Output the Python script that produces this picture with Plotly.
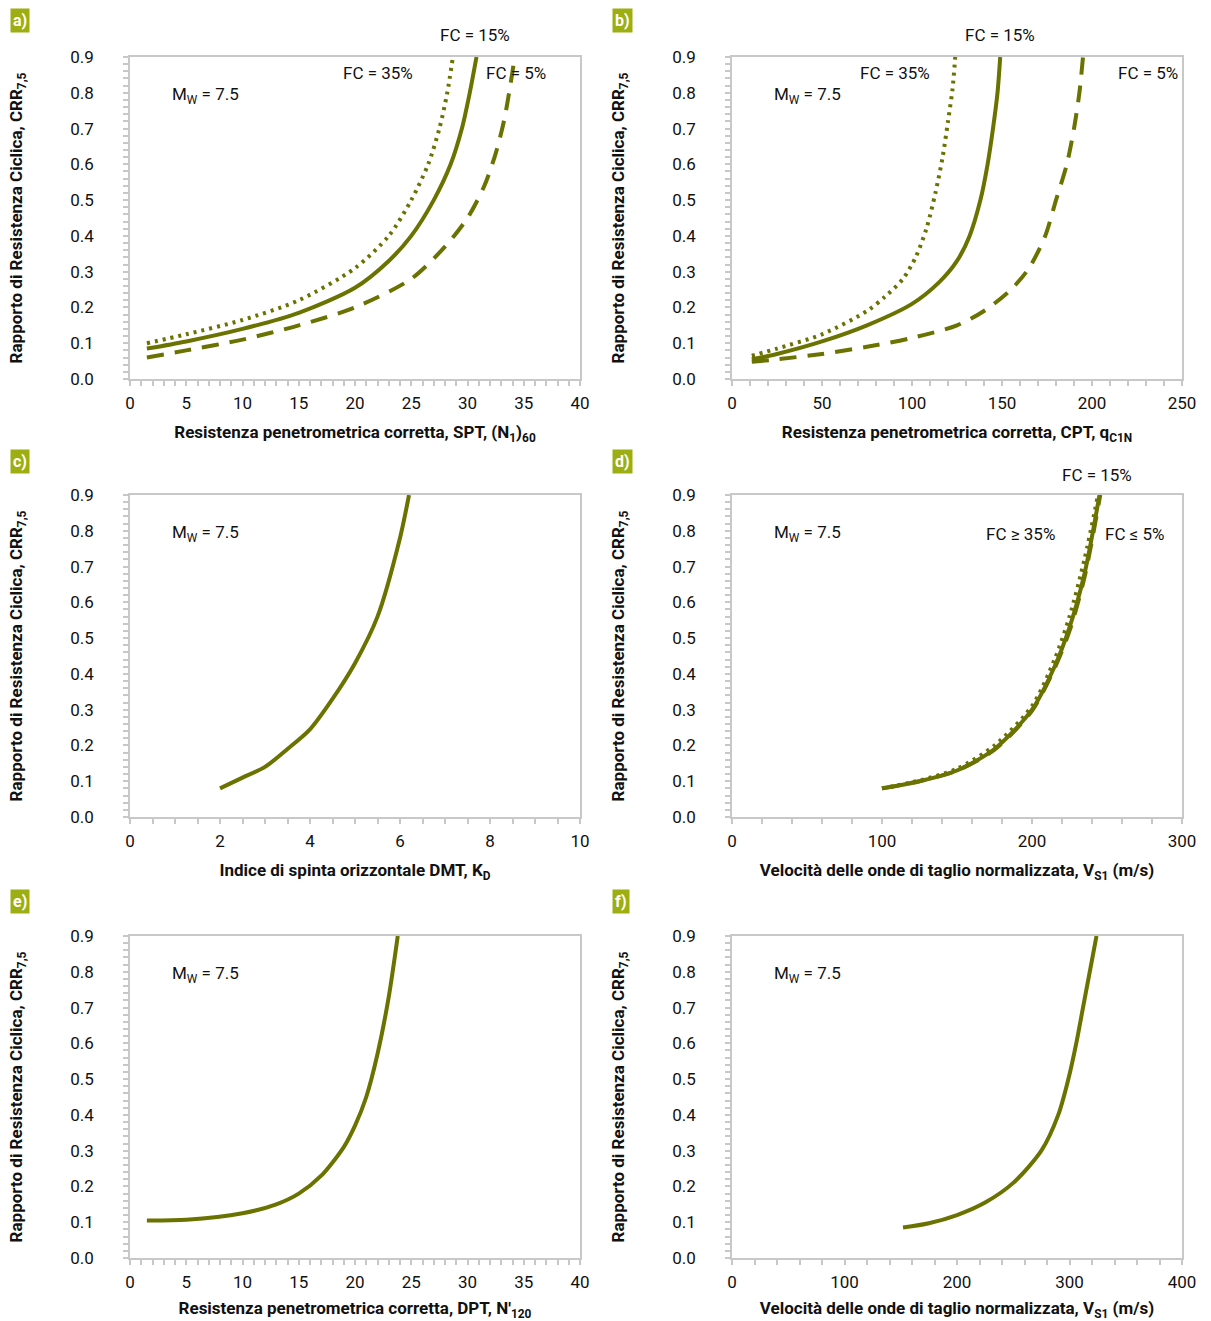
import plotly.graph_objects as go

# ---------------- DATA ----------------
# Panel a: SPT (N1)60 vs CRR7.5
spt_x_fc15 = [1.5, 5, 10, 15, 20, 23, 25, 27, 28.5, 29.5, 30.2, 30.8]
spt_y_fc15 = [0.085, 0.105, 0.14, 0.185, 0.255, 0.33, 0.40, 0.50, 0.60, 0.70, 0.80, 0.90]
spt_x_fc35 = [1.5, 5, 10, 15, 20, 23, 25, 26.5, 27.5, 28.2, 28.7]
spt_y_fc35 = [0.10, 0.125, 0.165, 0.22, 0.31, 0.40, 0.50, 0.60, 0.70, 0.80, 0.90]
spt_x_fc5 = [1.5, 5, 10, 15, 20, 25, 28, 30, 31.5, 32.5, 33.3, 34.2]
spt_y_fc5 = [0.06, 0.08, 0.11, 0.15, 0.20, 0.28, 0.37, 0.45, 0.54, 0.63, 0.73, 0.90]

# Panel b: CPT qc1N vs CRR7.5
cpt_x_fc15 = [11, 25, 50, 75, 100, 115, 125, 132, 138, 142, 145, 147.5, 149]
cpt_y_fc15 = [0.055, 0.07, 0.105, 0.15, 0.21, 0.27, 0.33, 0.40, 0.50, 0.60, 0.70, 0.80, 0.90]
cpt_x_fc35 = [11, 25, 50, 75, 85, 95, 102, 108, 113, 117, 120, 122.5, 124]
cpt_y_fc35 = [0.065, 0.085, 0.125, 0.19, 0.23, 0.28, 0.34, 0.42, 0.52, 0.62, 0.72, 0.81, 0.90]
cpt_x_fc5 = [11, 25, 50, 75, 100, 125, 140, 155, 165, 174, 180, 186, 190, 193, 195]
cpt_y_fc5 = [0.048, 0.055, 0.07, 0.09, 0.115, 0.15, 0.19, 0.25, 0.31, 0.40, 0.50, 0.60, 0.70, 0.80, 0.90]

# Panel c: DMT KD vs CRR7.5
dmt_x = [2.0, 2.5, 3.0, 3.5, 4.0, 4.5, 5.0, 5.5, 6.0, 6.2]
dmt_y = [0.08, 0.11, 0.14, 0.19, 0.245, 0.33, 0.43, 0.56, 0.78, 0.90]

# Panel d: Vs1 vs CRR7.5 (FC-dependent)
vs_x_fc15 = [100, 125, 150, 175, 200, 215, 225, 235, 245]
vs_y_fc15 = [0.08, 0.10, 0.13, 0.19, 0.30, 0.42, 0.53, 0.68, 0.90]
vs_x_fc35 = [100, 125, 150, 175, 200, 215, 225, 235, 244]
vs_y_fc35 = [0.08, 0.102, 0.135, 0.20, 0.31, 0.44, 0.56, 0.72, 0.90]
vs_x_fc5 = [100, 125, 150, 175, 200, 215, 225, 235, 245.5]
vs_y_fc5 = [0.08, 0.10, 0.13, 0.188, 0.297, 0.415, 0.52, 0.67, 0.90]

# Panel e: DPT N'120 vs CRR7.5
dpt_x = [1.5, 5, 10, 13, 15, 17, 19, 20, 21, 22, 23, 23.8]
dpt_y = [0.105, 0.107, 0.125, 0.15, 0.18, 0.23, 0.31, 0.37, 0.45, 0.57, 0.73, 0.90]

# Panel f: Vs1 vs CRR7.5
vsf_x = [152, 175, 200, 225, 250, 275, 290, 299, 306, 312, 318, 324]
vsf_y = [0.085, 0.097, 0.12, 0.155, 0.21, 0.30, 0.40, 0.50, 0.60, 0.70, 0.80, 0.90]

y_ticks = [0.0, 0.1, 0.2, 0.3, 0.4, 0.5, 0.6, 0.7, 0.8, 0.9]
panel_letters = ["a)", "b)", "c)", "d)", "e)", "f)"]
x_titles = [
    "<b>Resistenza penetrometrica corretta, SPT, (N<sub>1</sub>)<sub>60</sub></b>",
    "<b>Resistenza penetrometrica corretta, CPT, q<sub>C1N</sub></b>",
    "<b>Indice di spinta orizzontale DMT, K<sub>D</sub></b>",
    "<b>Velocità delle onde di taglio normalizzata, V<sub>S1</sub> (m/s)</b>",
    "<b>Resistenza penetrometrica corretta, DPT, N'<sub>120</sub></b>",
    "<b>Velocità delle onde di taglio normalizzata, V<sub>S1</sub> (m/s)</b>",
]
y_title = "<b>Rapporto di Resistenza Ciclica, CRR<sub>7,5</sub></b>"
x_ranges = [[0, 40], [0, 250], [0, 10], [0, 300], [0, 40], [0, 400]]
x_dticks = [5, 50, 2, 100, 5, 100]
x_minor = [1, 10, 0.5, 20, 1, 20]

# ---------------- STYLE ----------------
PAGE_W, PAGE_H = 1211, 1321
W, H = PAGE_W, PAGE_H
LINE = "#6a7200"
LABEL_BG = "#9dae12"
AXIS = "#c8c8c8"
FONT = "Roboto, Lato, sans-serif"


def px_x(X):
    return X / W


def px_y(Y):
    return 1 - Y / H


# plot areas in page pixels (left, right, top, bottom)
areas = [
    (130, 580, 57, 379), (732, 1182, 57, 379),
    (130, 580, 495, 817), (732, 1182, 495, 817),
    (130, 580, 936, 1258), (732, 1182, 936, 1258),
]
label_pos = [(10, 8), (612, 8), (10, 449), (612, 449), (10, 889), (612, 889)]

fig = go.Figure()


def add(ix, x, y, dash, name):
    n = "" if ix == 0 else str(ix + 1)
    fig.add_trace(go.Scatter(
        x=x, y=y, mode="lines", name=name, showlegend=False,
        line=dict(color=LINE, width=4, dash=dash, shape="spline", smoothing=0.8),
        xaxis="x" + n, yaxis="y" + n, hoverinfo="x+y",
    ))


DOT = "3px,5px"
DASH = "17px,11px"
add(0, spt_x_fc35, spt_y_fc35, DOT, "FC = 35%")
add(0, spt_x_fc15, spt_y_fc15, "solid", "FC = 15%")
add(0, spt_x_fc5, spt_y_fc5, DASH, "FC = 5%")
add(1, cpt_x_fc35, cpt_y_fc35, DOT, "FC = 35%")
add(1, cpt_x_fc15, cpt_y_fc15, "solid", "FC = 15%")
add(1, cpt_x_fc5, cpt_y_fc5, DASH, "FC = 5%")
add(2, dmt_x, dmt_y, "solid", "DMT")
add(3, vs_x_fc5, vs_y_fc5, DASH, "FC ≤ 5%")
add(3, vs_x_fc35, vs_y_fc35, DOT, "FC ≥ 35%")
add(3, vs_x_fc15, vs_y_fc15, "solid", "FC = 15%")
add(4, dpt_x, dpt_y, "solid", "DPT")
add(5, vsf_x, vsf_y, "solid", "Vs1")

layout = dict(
    width=W, height=H, margin=dict(l=0, r=0, t=0, b=0, autoexpand=False),
    paper_bgcolor="white", plot_bgcolor="white",
    font=dict(family=FONT, size=16, color="#111111"),
    annotations=[],
)

for i, (l, r, t, b) in enumerate(areas):
    n = "" if i == 0 else str(i + 1)
    layout["xaxis" + n] = dict(
        domain=[px_x(l), px_x(r)], anchor="y" + n, range=x_ranges[i],
        dtick=x_dticks[i], tick0=0, showgrid=False, zeroline=False, automargin=False,
        showline=True, linecolor=AXIS, linewidth=1.5, mirror=True,
        ticks="outside", ticklen=5, tickcolor=AXIS, tickwidth=1.5,
        minor=dict(ticks="outside", ticklen=5, tickcolor=AXIS, dtick=x_minor[i], tick0=0, tickwidth=1.5),
        tickfont=dict(size=17), ticklabelstandoff=3,
        title=dict(text=x_titles[i], font=dict(size=17), standoff=14),
        fixedrange=True,
    )
    layout["yaxis" + n] = dict(
        domain=[px_y(b), px_y(t)], anchor="x" + n, range=[0, 0.9],
        tickvals=y_ticks, ticktext=[f"{v:.1f}" for v in y_ticks],
        showgrid=False, zeroline=False, automargin=False,
        showline=True, linecolor=AXIS, linewidth=1.5, mirror=True,
        ticks="outside", ticklen=5, tickcolor=AXIS, tickwidth=1.5,
        minor=dict(ticks="outside", ticklen=5, tickcolor=AXIS, dtick=0.02, tick0=0, tickwidth=1.5),
        tickfont=dict(size=17), ticklabelstandoff=26,
        title=dict(text=y_title, font=dict(size=17), standoff=43),
        fixedrange=True,
    )
    # Mw label
    layout["annotations"].append(dict(
        text="M<sub>W</sub> = 7.5", xref=f"x{n} domain", yref=f"y{n} domain",
        x=0.088, y=0.88, xanchor="left", yanchor="middle", showarrow=False,
        font=dict(size=17)))
    # panel letter
    lx, ly = label_pos[i]
    layout["annotations"].append(dict(
        text="<b>" + panel_letters[i] + "</b>", xref="paper", yref="paper",
        x=px_x(lx), y=px_y(ly), xanchor="left", yanchor="top", showarrow=False,
        bgcolor=LABEL_BG, font=dict(size=16, color="white"), borderpad=2))

# FC labels (x in data units, y as fraction of the plot height)
fc_labels = [
    ("", "FC = 35%", 22.0, 0.950), ("", "FC = 15%", 30.7, 1.068), ("", "FC = 5%", 34.3, 0.950),
    ("2", "FC = 35%", 90.6, 0.950), ("2", "FC = 15%", 149, 1.068), ("2", "FC = 5%", 231, 0.950),
    ("4", "FC = 15%", 243, 1.062), ("4", "FC ≥ 35%", 192, 0.878), ("4", "FC ≤ 5%", 268.7, 0.878),
]
for n, txt, x, y in fc_labels:
    layout["annotations"].append(dict(
        text=txt, xref="x" + n, yref=f"y{n} domain", x=x, y=y, showarrow=False,
        xanchor="center", yanchor="middle", font=dict(size=17)))

fig.update_layout(**layout)
fig.write_html(
    "out.html", config={"displayModeBar": False},
    post_script="document.body.style.margin='0';document.body.style.overflow='hidden';",
)
